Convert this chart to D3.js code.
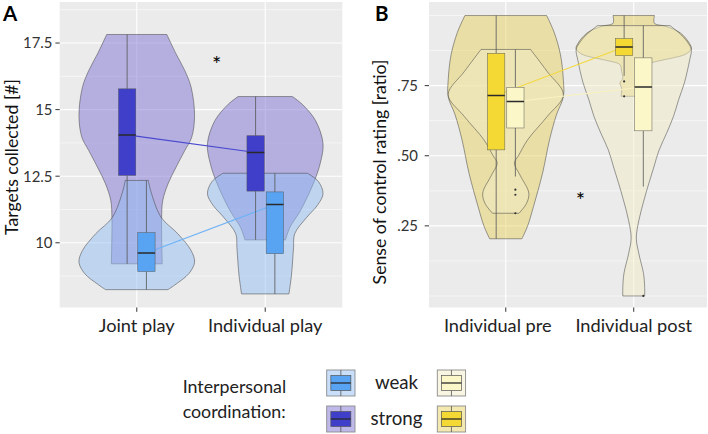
<!DOCTYPE html>
<html><head><meta charset="utf-8">
<script src="https://cdn.jsdelivr.net/npm/d3@7"></script>
<style>html,body{margin:0;padding:0;background:#fff;}svg{display:block;}</style>
</head><body>
<script>
// ---------------- DATA ----------------
const catsA = ["Joint play", "Individual play"];
const catsB = ["Individual pre", "Individual post"];
const groups = ["strong", "weak"];
const legendLabels = ["weak", "strong"];
const yTicksA = [10, 12.5, 15, 17.5];
const yTickLabelsA = ["10", "12.5", "15", "17.5"];
const yMinorA = [8.75, 11.25, 13.75, 16.25, 18.75];
const yTicksB = [0.25, 0.5, 0.75];
const yTickLabelsB = [".25", ".50", ".75"];
const yMinorB = [0, 0.125, 0.375, 0.625, 0.875, 1.0];

// box stats per category: [lower whisker, q1, median, q3, upper whisker]
const boxA_strong = [[9.21, 12.53, 14.05, 15.78, 17.82], [10.11, 11.94, 13.39, 14.02, 15.49]];
const boxA_weak   = [[8.24, 8.92, 9.62, 10.38, 12.34], [8.08, 9.59, 11.44, 11.91, 12.61]];
const boxB_strong = [[0.204, 0.521, 0.715, 0.865, 1.0], [0.785, 0.857, 0.888, 0.918, 1.0]];
const boxB_weak   = [[0.426, 0.599, 0.693, 0.744, 0.879], [0.39, 0.589, 0.745, 0.849, 0.964]];
const outliersB_strong = [[], [0.765, 0.712]];
const outliersB_weak   = [[0.379, 0.361, 0.295], [0.0]];

// violin profiles: [value, relative density width (max = 1)]
const violinA_joint_strong = [[17.82,0.52],[17.09,0.68],[16.47,0.83],[15.84,0.94],[14.78,1.0],[13.96,0.95],[13.46,0.83],[12.84,0.68],[12.21,0.54],[11.59,0.45],[10.96,0.43],[9.21,0.44]];
const violinA_joint_weak   = [[12.34,0.20],[11.96,0.24],[10.96,0.42],[10.34,0.71],[9.71,0.94],[9.27,1.0],[8.84,0.90],[8.45,0.68],[8.24,0.54]];
const violinA_ind_strong   = [[15.49,0.47],[15.2,0.64],[14.59,0.87],[13.72,1.0],[12.97,0.95],[12.21,0.83],[11.21,0.61],[10.59,0.43],[10.11,0.35]];
const violinA_ind_weak     = [[12.61,0.73],[12.3,0.92],[11.84,1.0],[11.4,0.9],[10.96,0.72],[10.34,0.51],[9.83,0.49],[9.2,0.47],[8.71,0.45],[8.08,0.41]];
const violinB_pre_strong   = [[1.0,0.71],[0.94,0.84],[0.86,0.95],[0.77,1.0],[0.71,1.0],[0.646,0.88],[0.557,0.76],[0.439,0.64],[0.318,0.48],[0.25,0.38],[0.204,0.28]];
const violinB_pre_weak     = [[0.879,0.43],[0.80,0.72],[0.718,1.0],[0.64,0.72],[0.557,0.38],[0.5,0.22],[0.474,0.15],[0.43,0.25],[0.367,0.40],[0.33,0.36],[0.295,0.23]];
const violinB_post_strong  = [[1.0,0.36],[0.972,0.36],[0.962,0.55],[0.938,0.81],[0.90,0.97],[0.881,1.0],[0.862,0.9],[0.848,0.66],[0.837,0.41],[0.825,0.24],[0.80,0.21],[0.775,0.19],[0.76,0.24],[0.74,0.21],[0.712,0.22]];
const violinB_post_weak    = [[0.964,0.63],[0.93,0.83],[0.90,0.95],[0.879,1.0],[0.84,0.97],[0.76,0.88],[0.70,0.78],[0.64,0.69],[0.58,0.57],[0.52,0.44],[0.46,0.35],[0.40,0.26],[0.343,0.18],[0.27,0.09],[0.206,0.045],[0.15,0.09],[0.08,0.17],[0.03,0.19],[0.0,0.19]];

// ---------------- STYLE ----------------
const FONT = "Lato, 'Open Sans', sans-serif";
const W = 708, H = 434;
const BG = "#ebebeb";
const colA = {strong: {violin: "#7d73d3", box: "#3f3fc9", line: "#4848d0"},
              weak:   {violin: "#94bdf3", box: "#58a4f3", line: "#6db2f6"}};
const colB = {strong: {violin: "#e7d161", box: "#f4d833", line: "#f3d83a"},
              weak:   {violin: "#f1ebc5", box: "#fcf7c9", line: "#f8f1c0"}};

const svg = d3.select("body").append("svg").attr("width", W).attr("height", H)
  .style("font-family", FONT);
svg.append("rect").attr("width", W).attr("height", H).attr("fill", "#fff");

function fitSize(text, target, weight) {
  const t = svg.append("text").attr("font-family", FONT).attr("font-size", 20)
    .attr("font-weight", weight || "normal").text(text);
  const w = t.node().getComputedTextLength(); t.remove();
  return 20 * target / w;
}
const fsTick = fitSize("17.5", 29.5);
const fsX = fitSize("Individual play", 114.5);
const fsTitle = fitSize("Targets collected [#]", 156);
const fsLegend = fitSize("Interpersonal", 103.5);

const panels = [
  {cats: catsA, left: 59.7, right: 342.3, xr: [59.7, 342.3], top: 2, bottom: 307.5,
   ydom: [7.57, 19.04], ticks: yTicksA, tickLabels: yTickLabelsA, minor: yMinorA,
   col: colA, box: {strong: boxA_strong, weak: boxA_weak}, out: null,
   violins: {strong: [violinA_joint_strong, violinA_ind_strong], weak: [violinA_joint_weak, violinA_ind_weak]},
   title: "Targets collected [#]", titleX: 17.5, titleY: 157, letter: "A", letterX: 3, labelRight: 52.5,
   star: [216.7, 59.5], xdx: [0, 0]},
  {cats: catsB, left: 429, right: 707, xr: [429, 710.5], top: 2, bottom: 307.5,
   ydom: [-0.0411, 1.0482], ticks: yTicksB, tickLabels: yTickLabelsB, minor: yMinorB,
   col: colB, box: {strong: boxB_strong, weak: boxB_weak}, out: {strong: outliersB_strong, weak: outliersB_weak},
   violins: {strong: [violinB_pre_strong, violinB_post_strong], weak: [violinB_pre_weak, violinB_post_weak]},
   title: "Sense of control rating [ratio]", titleX: 385.5, titleY: 172, letter: "B", letterX: 375, labelRight: 418,
   star: [580.5, 195.5], xdx: [-8, 0]}
];

panels.forEach(p => {
  const x = d3.scalePoint().domain(p.cats).range(p.xr).padding(0.6);
  const step = x.step();
  const y = d3.scaleLinear().domain(p.ydom).range([p.bottom, p.top]);
  const g = svg.append("g");
  const clipId = "clip" + p.letter;
  svg.append("clipPath").attr("id", clipId).append("rect")
    .attr("x", p.left).attr("y", p.top).attr("width", p.right - p.left).attr("height", p.bottom - p.top);
  g.append("rect").attr("x", p.left).attr("y", p.top).attr("width", p.right - p.left)
    .attr("height", p.bottom - p.top).attr("fill", BG);
  const inner = g.append("g").attr("clip-path", `url(#${clipId})`);
  // grid
  inner.selectAll(".minor").data(p.minor).join("line")
    .attr("x1", p.left).attr("x2", p.right).attr("y1", d => y(d)).attr("y2", d => y(d))
    .attr("stroke", "#fff").attr("stroke-width", 0.55);
  inner.selectAll(".major").data(p.ticks).join("line")
    .attr("x1", p.left).attr("x2", p.right).attr("y1", d => y(d)).attr("y2", d => y(d))
    .attr("stroke", "#fff").attr("stroke-width", 1.1);
  inner.selectAll(".vmajor").data(p.cats).join("line")
    .attr("x1", d => x(d)).attr("x2", d => x(d)).attr("y1", p.top).attr("y2", p.bottom)
    .attr("stroke", "#fff").attr("stroke-width", 1.1);

  // violins
  const maxHW = 0.45 * step;
  const curve = d3.line().curve(d3.curveCatmullRom.alpha(0.5));
  function violinPath(profile, cx) {
    const right = profile.map(([v, w]) => [cx + w * maxHW, y(v)]);
    const left = profile.map(([v, w]) => [cx - w * maxHW, y(v)]).reverse();
    return curve(right) + curve(left).replace(/^M/, "L") + "Z";
  }
  groups.forEach(gr => {
    p.cats.forEach((c, i) => {
      inner.append("path").attr("d", violinPath(p.violins[gr][i], x(c)))
        .attr("fill", p.col[gr].violin).attr("fill-opacity", 0.5)
        .attr("stroke", "#444").attr("stroke-opacity", 0.8).attr("stroke-width", 0.65);
    });
  });

  const off = {strong: -0.075 * step, weak: 0.075 * step};
  const bw = 0.135 * step;
  // median connection lines
  groups.forEach(gr => {
    const pts = p.cats.map((c, i) => [x(c) + off[gr], y(p.box[gr][i][2])]);
    inner.append("path").attr("d", d3.line()(pts)).attr("fill", "none")
      .attr("stroke", p.col[gr].line).attr("stroke-width", 1.1);
  });
  // boxes
  groups.forEach(gr => {
    p.cats.forEach((c, i) => {
      const [lo, q1, med, q3, hi] = p.box[gr][i];
      const cx = x(c) + off[gr];
      inner.append("line").attr("x1", cx).attr("x2", cx).attr("y1", y(hi)).attr("y2", y(q3))
        .attr("stroke", "#555").attr("stroke-width", 0.8);
      inner.append("line").attr("x1", cx).attr("x2", cx).attr("y1", y(q1)).attr("y2", y(lo))
        .attr("stroke", "#555").attr("stroke-width", 0.8);
      inner.append("rect").attr("x", cx - bw / 2).attr("width", bw).attr("y", y(q3)).attr("height", y(q1) - y(q3))
        .attr("fill", p.col[gr].box).attr("stroke", "#555").attr("stroke-opacity", 0.8).attr("stroke-width", 0.6);
      inner.append("line").attr("x1", cx - bw / 2).attr("x2", cx + bw / 2).attr("y1", y(med)).attr("y2", y(med))
        .attr("stroke", "#2a2a2a").attr("stroke-width", 1.5);
      if (p.out) {
        p.out[gr][i].forEach(v => {
          inner.append("circle").attr("cx", cx).attr("cy", y(v)).attr("r", 1.1).attr("fill", "#333");
        });
      }
    });
  });

  // significance star
  g.append("text").attr("x", p.star[0]).attr("y", p.star[1] + 12.5).attr("text-anchor", "middle")
    .attr("font-size", 22).attr("fill", "#000").text("*");

  // y axis ticks
  p.ticks.forEach((t, i) => {
    g.append("line").attr("x1", p.left - 4.3).attr("x2", p.left).attr("y1", y(t)).attr("y2", y(t))
      .attr("stroke", "#333").attr("stroke-width", 1);
    g.append("text").attr("x", p.labelRight).attr("y", y(t)).attr("dy", "0.36em")
      .attr("text-anchor", "end").attr("font-size", fsTick).attr("fill", "#333").text(p.tickLabels[i]);
  });
  // x axis ticks
  p.cats.forEach((c, i) => {
    g.append("line").attr("x1", x(c)).attr("x2", x(c)).attr("y1", p.bottom).attr("y2", p.bottom + 4.3)
      .attr("stroke", "#333").attr("stroke-width", 1);
    g.append("text").attr("x", x(c) + p.xdx[i]).attr("y", 332).attr("text-anchor", "middle")
      .attr("font-size", fsX).attr("fill", "#222").text(c);
  });
  // axis title
  g.append("text").attr("transform", `translate(${p.titleX},${p.titleY}) rotate(-90)`)
    .attr("text-anchor", "middle").attr("font-size", fsTitle).attr("fill", "#111").text(p.title);
  // panel letter
  g.append("text").attr("x", p.letterX).attr("y", 20.7).attr("font-size", 20.5)
    .attr("font-weight", "bold").attr("fill", "#000").text(p.letter);
});

// ---------------- LEGEND ----------------
const lg = svg.append("g");
lg.append("text").attr("x", 182.7).attr("y", 393.3).attr("font-size", fsLegend).attr("fill", "#222").text("Interpersonal");
lg.append("text").attr("x", 182.7).attr("y", 418.3).attr("font-size", fsLegend).attr("fill", "#222").text("coordination:");
const keyRows = {weak: 370, strong: 406};
const keyCols = [{x: 326.7, col: colA}, {x: 437.3, col: colB}];
const kw = 28.3, kh = 26;
legendLabels.forEach(gr => {
  const y0 = keyRows[gr];
  keyCols.forEach(kc => {
    const k = lg.append("g");
    k.append("rect").attr("x", kc.x).attr("y", y0).attr("width", kw).attr("height", kh)
      .attr("fill", kc.col[gr].violin).attr("fill-opacity", 0.5).attr("stroke", "#8c8c8c").attr("stroke-width", 0.9);
    const cx = kc.x + kw / 2, bwk = 20, bhk = 15, by = y0 + (kh - bhk) / 2;
    k.append("line").attr("x1", cx).attr("x2", cx).attr("y1", y0).attr("y2", by).attr("stroke", "#555").attr("stroke-width", 0.8);
    k.append("line").attr("x1", cx).attr("x2", cx).attr("y1", by + bhk).attr("y2", y0 + kh).attr("stroke", "#555").attr("stroke-width", 0.8);
    k.append("rect").attr("x", cx - bwk / 2).attr("y", by).attr("width", bwk).attr("height", bhk)
      .attr("fill", kc.col[gr].box).attr("stroke", "#555").attr("stroke-width", 0.7);
    k.append("line").attr("x1", cx - bwk / 2).attr("x2", cx + bwk / 2).attr("y1", by + bhk / 2).attr("y2", by + bhk / 2)
      .attr("stroke", "#2a2a2a").attr("stroke-width", 1.3);
  });
  lg.append("text").attr("x", 396.5).attr("y", y0 + kh / 2).attr("dy", "0.32em").attr("text-anchor", "middle")
    .attr("font-size", fsLegend * 1.05).attr("fill", "#222").text(gr);
});
</script>
</body></html>
